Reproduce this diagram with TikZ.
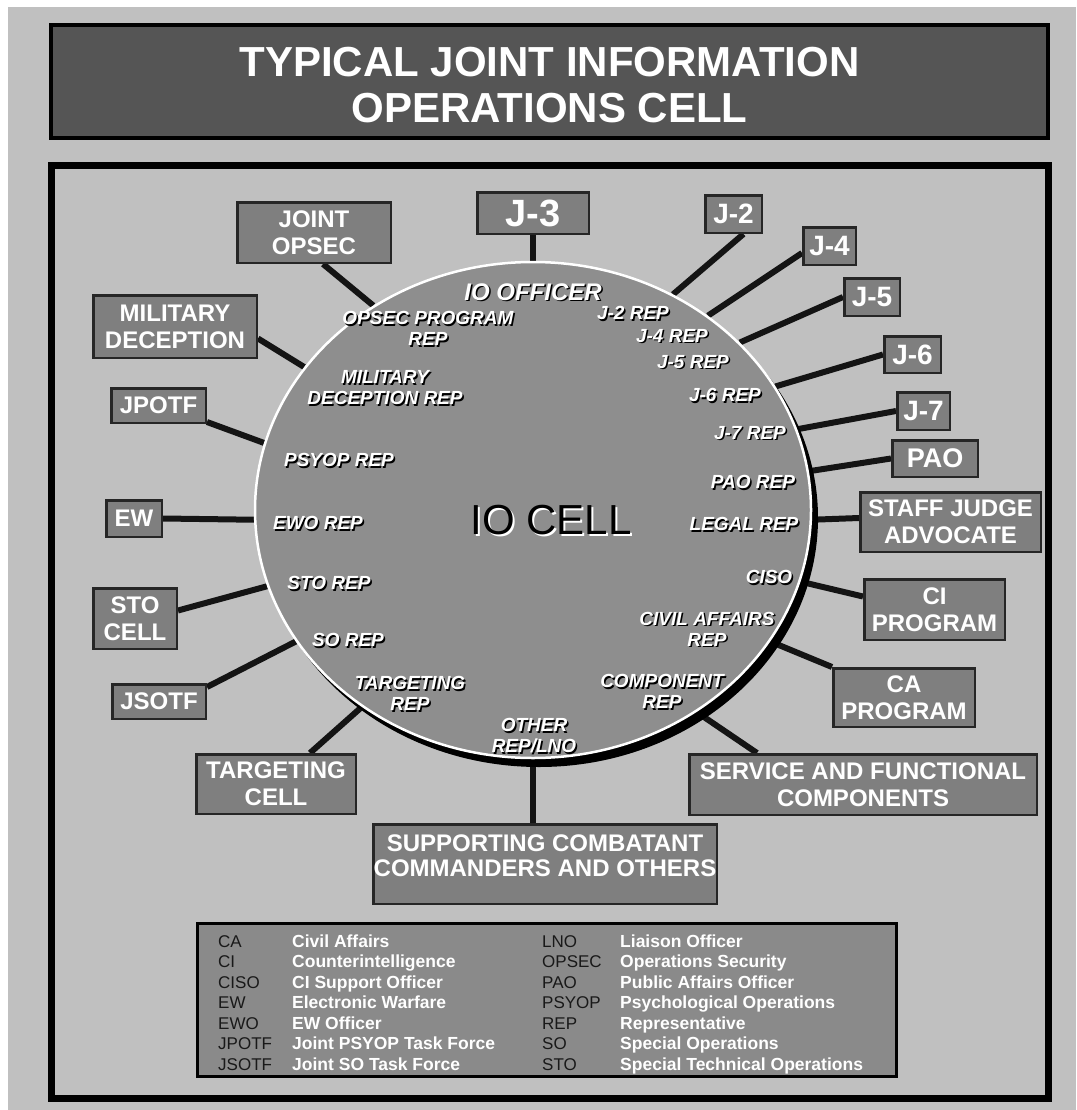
\documentclass[tikz,border=0pt]{standalone}
\usepackage{fontspec}
\setmainfont{Liberation Sans}
\usetikzlibrary{shapes.geometric}
\definecolor{pagegray}{HTML}{C0C0C0}
\definecolor{titlefill}{HTML}{555555}
\definecolor{cellfill}{HTML}{8E8E8E}
\definecolor{boxfill}{HTML}{7F7F7F}
\definecolor{boxline}{HTML}{262626}
\definecolor{keyfill}{HTML}{8A8A8A}
\newcommand\fs[2]{\fontsize{#1pt}{#2pt}\selectfont}
\pgfdeclarelayer{bg}
\pgfdeclarelayer{links}
\pgfsetlayers{bg,links,main}
% white italic label inside the cell, with a dark drop shadow
\newcommand\replab[3]{%
  \node[rep, text=black, xshift=1.5pt, yshift=-1.5pt] at (#2) {#3};
  \node[rep] (#1) at (#2) {#3};}
\begin{document}
\begin{tikzpicture}[x=1pt,y=-1pt,
  unitbox/.style={draw=boxline, line width=2.5pt, fill=boxfill, text=white,
    align=center, inner sep=0pt, font=\fs{24}{27}\bfseries},
  jbox/.style={unitbox, font=\fs{28}{30}\bfseries},
  wh/.style 2 args={minimum width=#1, minimum height=#2},
  link/.style={line width=6pt, draw=black!92},
  rep/.style={text=white, align=center, inner sep=0pt,
    font=\fs{19}{21}\bfseries\itshape},
  keyabbr/.style={anchor=west, inner sep=0pt, text height=12.5pt, text depth=0pt,
    font=\fs{17}{20}, text=black!90},
  keydef/.style={anchor=west, inner sep=0pt, text height=12.5pt, text depth=0pt,
    font=\fs{17.5}{20}\bfseries, text=white}]
\useasboundingbox (0,0) rectangle (1076,1110);

\begin{pgfonlayer}{bg}
  \fill[white] (0,0) rectangle (1076,1110);
  \fill[pagegray] (8,7) rectangle (1076,1110);
  \draw[line width=7pt] (51.5,165.5) rectangle (1048.5,1098.5);
\end{pgfonlayer}

% title bar
\node[draw=black, line width=4pt, fill=titlefill, wh={997pt}{113pt}] (titlebox) at (549.5,81.5) {};
\node[font=\fs{42}{46}\bfseries, text=white, align=center, inner sep=0pt] (title) at (549.5,85)
  {TYPICAL JOINT INFORMATION\\OPERATIONS CELL};

% the IO cell
\fill[black] (539,518) ellipse [x radius=279pt, y radius=249pt];
\node[ellipse, draw=white, line width=2.5pt, fill=cellfill, inner sep=0pt,
  wh={556pt}{496pt}] (cell) at (533,510) {};

% surrounding units
\node[unitbox, font=\fs{38}{40}\bfseries, wh={111.5pt}{41.5pt}] (j3) at (533,213) {J-3};
\node[unitbox, wh={153.5pt}{60.5pt}] (jops) at (314,232.5) {JOINT\\OPSEC};
\node[jbox, wh={56.5pt}{37.5pt}] (j2) at (733.5,214) {J-2};
\node[jbox, wh={52.5pt}{37.5pt}] (j4) at (829.5,246) {J-4};
\node[jbox, wh={55.5pt}{37.5pt}] (j5) at (872,297) {J-5};
\node[jbox, wh={56.5pt}{36.5pt}] (j6) at (912.5,354.5) {J-6};
\node[jbox, wh={52.5pt}{37.5pt}] (j7) at (923.5,411) {J-7};
\node[unitbox, font=\fs{27}{30}\bfseries, wh={85.5pt}{36.5pt}] (pao) at (935,458.5) {PAO};
\node[unitbox, wh={180.5pt}{59.5pt}] (sja) at (950.5,522) {STAFF JUDGE\\ADVOCATE};
\node[unitbox, wh={140.5pt}{60.5pt}] (ci) at (934.5,609.5) {CI\\PROGRAM};
\node[unitbox, wh={141.5pt}{58.5pt}] (ca) at (904,697.5) {CA\\PROGRAM};
\node[unitbox, wh={347.5pt}{60.5pt}] (sfc) at (863,784.5) {SERVICE AND FUNCTIONAL\\COMPONENTS};
\node[unitbox, wh={343.5pt}{79.5pt}] (supp) at (545,864) {};
\node[text=white, align=center, inner sep=0pt, font=\fs{24}{25}\bfseries] (supptext) at (545,855.5)
  {SUPPORTING COMBATANT\\COMMANDERS AND OTHERS};
\node[unitbox, wh={159.5pt}{59.5pt}] (tgt) at (276,784) {TARGETING\\CELL};
\node[unitbox, wh={163.5pt}{62.5pt}] (mil) at (175,326.5) {MILITARY\\DECEPTION};
\node[unitbox, wh={94.5pt}{34.5pt}] (jpotf) at (158.5,405.5) {JPOTF};
\node[unitbox, wh={55.5pt}{36.5pt}] (ew) at (134,518.5) {EW};
\node[unitbox, wh={83.5pt}{60.5pt}] (sto) at (135,618.5) {STO\\CELL};
\node[unitbox, wh={93.5pt}{34.5pt}] (jsotf) at (159,701.5) {JSOTF};

% links from the units to the cell
\begin{pgfonlayer}{links}
  \draw[link] (j3.south) -- (cell.90);
  \draw[link] ([xshift=10pt]j2.south) -- (cell.57);
  \draw[link] ([yshift=-7pt]j4.west) -- (cell.48);
  \draw[link] (j5.west) -- (cell.39);
  \draw[link] (j6.west) -- (cell.27);
  \draw[link] (j7.west) -- (cell.17);
  \draw[link] (pao.west) -- (cell.8);
  \draw[link] ([yshift=4pt]sja.west) -- (cell.358);
  \draw[link] ([yshift=13pt]ci.west) -- (cell.345);
  \draw[link] (ca.north west) -- (cell.331);
  \draw[link] ([xshift=-106pt]sfc.north) -- (cell.309);
  \draw[link] ([xshift=-12pt]supp.north) -- (cell.270);
  \draw[link] ([xshift=34pt]tgt.north) -- (cell.229);
  \draw[link] ([yshift=-4pt]jsotf.north east) -- (cell.209);
  \draw[link] ([yshift=8pt]sto.east) -- (cell.196);
  \draw[link] (ew.east) -- (cell.182);
  \draw[link] ([yshift=2pt]jpotf.south east) -- (cell.166);
  \draw[link] ([yshift=-12pt]mil.east) -- (cell.148);
  \draw[link] ([xshift=9pt]jops.south) -- (cell.128);
\end{pgfonlayer}

% representatives inside the cell
\node[rep, text=black, xshift=1.5pt, yshift=-1.5pt, font=\fs{24}{26}\bfseries\itshape] at (533,292) {IO OFFICER};
\node[rep, font=\fs{24}{26}\bfseries\itshape] (iooff) at (533,292) {IO OFFICER};
\replab{opsecrep}{428,328.5}{OPSEC PROGRAM\\REP}
\replab{milrep}{385,388}{MILITARY\\DECEPTION REP}
\replab{psyrep}{339,460}{PSYOP REP}
\replab{eworep}{318,523}{EWO REP}
\replab{storep}{329,583}{STO REP}
\replab{sorep}{348,640}{SO REP}
\replab{tgtrep}{410,693.5}{TARGETING\\REP}
\replab{othrep}{534,736}{OTHER\\REP/LNO}
\replab{comprep}{662,691.5}{COMPONENT\\REP}
\replab{carep}{707,629}{CIVIL AFFAIRS\\REP}
\replab{cisorep}{769,577}{CISO}
\replab{legrep}{744,524}{LEGAL REP}
\replab{paorep}{753,482}{PAO REP}
\replab{jsevrep}{750,433}{J-7 REP}
\replab{jsixrep}{725,395}{J-6 REP}
\replab{jfivrep}{693,362}{J-5 REP}
\replab{jfourep}{672,336}{J-4 REP}
\replab{jtworep}{633,313}{J-2 REP}

\node[font=\fs{42}{46}, text=white, inner sep=0pt] at (553,522) {IO CELL};
\node[font=\fs{42}{46}, text=black, inner sep=0pt] (iocell) at (551,520) {IO CELL};

% abbreviation key
\node[draw=black, line width=3pt, fill=keyfill, wh={699pt}{153pt}] (key) at (547,1000) {};
\foreach \a/\d [count=\i] in {CA/Civil Affairs, CI/Counterintelligence, CISO/CI Support Officer,
    EW/Electronic Warfare, EWO/EW Officer, JPOTF/Joint PSYOP Task Force, JSOTF/Joint SO Task Force}{
  \node[keyabbr] (ka\i) at (218,{941+20.5*(\i-1)}) {\a};
  \node[keydef] (kd\i) at (292,{941+20.5*(\i-1)}) {\d};
}
\foreach \a/\d [count=\i] in {LNO/Liaison Officer, OPSEC/Operations Security, PAO/Public Affairs Officer,
    PSYOP/Psychological Operations, REP/Representative, SO/Special Operations, STO/Special Technical Operations}{
  \node[keyabbr] (kb\i) at (542,{941+20.5*(\i-1)}) {\a};
  \node[keydef] (ke\i) at (620,{941+20.5*(\i-1)}) {\d};
}
\end{tikzpicture}
\end{document}
